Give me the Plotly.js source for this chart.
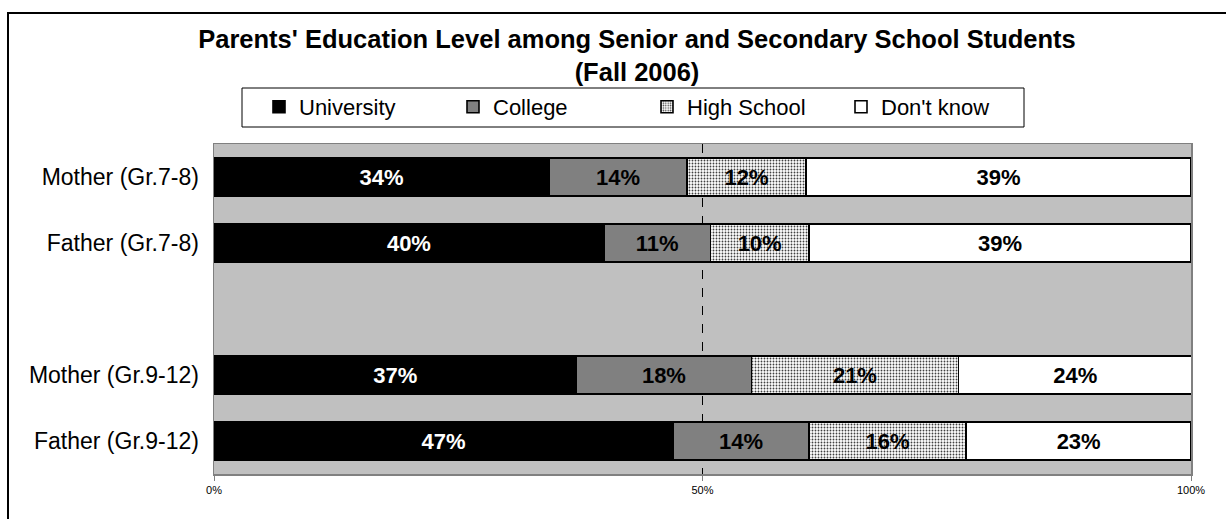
<!DOCTYPE html>
<html>
<head>
<meta charset="utf-8">
<script src="https://cdn.plot.ly/plotly-3.0.1.min.js"></script>
<style>
  html, body { margin: 0; padding: 0; background: #ffffff; overflow: hidden; }
  #wrap { position: relative; width: 1226px; height: 519px; overflow: hidden; }
  #chart { position: absolute; left: 0; top: 0; width: 1226px; height: 519px; }
  #frame { position: absolute; left: 7px; top: 12px; width: 1300px; height: 600px;
           border: 2px solid #000000; pointer-events: none; box-sizing: border-box; }
</style>
</head>
<body>
<div id="wrap">
  <div id="chart"></div>
  <div id="frame"></div>
</div>
<script>
// ---- data ----
const categories = ['Mother (Gr.7-8)', 'Father (Gr.7-8)', ' ', 'Mother (Gr.9-12)', 'Father (Gr.9-12)'];
const seriesNames = ['University', 'College', 'High School', "Don't know"];
const university = [34.3, 39.9, null, 37.1, 47.0];
const college    = [14.1, 10.9, null, 17.9, 13.9];
const highSchool = [12.2, 10.1, null, 21.2, 16.1];
const dontKnow   = [39.4, 39.1, null, 23.9, 23.0];
const tickValues = [0, 50, 100];
const tickLabels = ['0%', '50%', '100%'];
const titleText = "<b>Parents' Education Level among Senior and Secondary School Students</b><br><b>(Fall 2006)</b>";

const FONT = 'Liberation Sans, Arial, sans-serif';

function barTrace(name, values, fill, textColor, pattern) {
  const t = {
    type: 'bar',
    orientation: 'h',
    name: name,
    y: categories,
    x: values,
    texttemplate: '%{x:.0f}%',
    textposition: 'inside',
    insidetextanchor: 'middle',
    textangle: 0,
    constraintext: 'none',
    textfont: { family: FONT, size: 22, color: textColor, weight: 'bold' },
    marker: { color: fill, line: { color: '#000000', width: 1.6 } },
    hoverinfo: 'skip'
  };
  if (pattern) t.marker.pattern = pattern;
  return t;
}

const data = [
  barTrace(seriesNames[0], university, '#000000', '#ffffff'),
  barTrace(seriesNames[1], college, '#808080', '#000000'),
  barTrace(seriesNames[2], highSchool, '#ffffff', '#000000',
    { shape: '.', size: 3, solidity: 0.3, fgcolor: '#404040', bgcolor: '#ffffff', fillmode: 'replace' }),
  barTrace(seriesNames[3], dontKnow, '#ffffff', '#000000')
];

// plot area in pixels: x 214..1191, y 144..474
const L = 214, R = 1191, T = 144, B = 474;
const px = p => (p - L) / (R - L);
const py = p => (B - p) / (B - T);

const layout = {
  width: 1226,
  height: 519,
  margin: { l: L, r: 1226 - R, t: T, b: 519 - B, pad: 0 },
  paper_bgcolor: 'rgba(255,255,255,0)',
  plot_bgcolor: '#C0C0C0',
  barmode: 'stack',
  bargap: 0.43,
  showlegend: true,
  font: { family: FONT, color: '#000000' },
  title: {
    text: titleText,
    font: { family: FONT, size: 25.5, color: '#000000' },
    xref: 'container', x: 637 / 1226, xanchor: 'center',
    yref: 'container', y: 1 - 48 / 519, yanchor: 'top'
  },
  legend: {
    orientation: 'h',
    traceorder: 'normal',
    x: px(259), xanchor: 'left',
    y: py(107), yanchor: 'middle',
    bgcolor: 'rgba(0,0,0,0)',
    borderwidth: 0,
    entrywidth: 149,
    entrywidthmode: 'pixels',
    font: { family: FONT, size: 22, color: '#000000' }
  },
  xaxis: {
    range: [0, 100],
    tickvals: tickValues,
    ticktext: tickLabels,
    ticks: 'outside',
    ticklen: 5,
    tickcolor: '#808080',
    tickwidth: 1,
    tickfont: { family: FONT, size: 11, color: '#000000' },
    showgrid: true,
    gridcolor: '#000000',
    griddash: 'dash',
    gridwidth: 1,
    zeroline: false,
    showline: true,
    linecolor: '#808080',
    linewidth: 1.5,
    mirror: true,
    fixedrange: true
  },
  yaxis: {
    type: 'category',
    categoryorder: 'array',
    categoryarray: categories,
    range: [categories.length - 0.5, -0.5],
    ticks: '',
    ticklabelstandoff: 9,
    tickfont: { family: FONT, size: 23, color: '#000000' },
    showgrid: false,
    zeroline: false,
    showline: true,
    linecolor: '#808080',
    linewidth: 1.5,
    mirror: true,
    fixedrange: true
  },
  shapes: [
    // legend box
    { type: 'rect', xref: 'paper', yref: 'paper', layer: 'above',
      x0: px(242), x1: px(1024), y0: py(127), y1: py(88),
      line: { color: '#000000', width: 1 }, fillcolor: 'rgba(0,0,0,0)' }
  ]
};

Plotly.newPlot('chart', data, layout, { displayModeBar: false, staticPlot: true });
</script>
</body>
</html>
